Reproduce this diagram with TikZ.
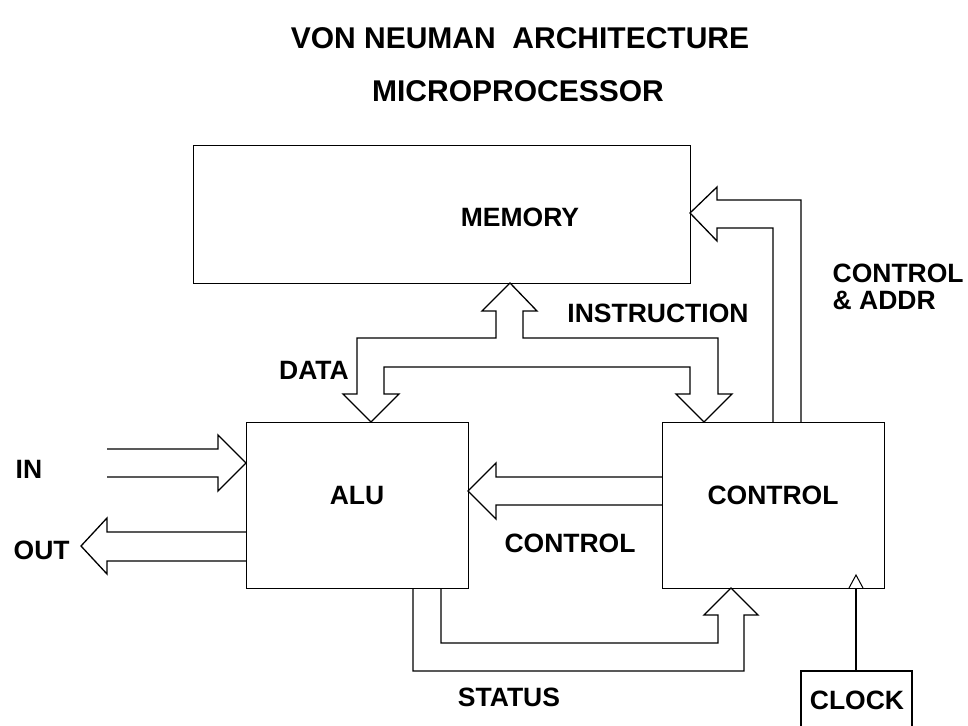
\documentclass[tikz,border=0pt]{standalone}
\usepackage{fontspec}
\setmainfont{Liberation Sans}
\begin{document}
\begin{tikzpicture}[x=1pt,y=-1pt,
  line width=1.3pt, line join=miter,
  box/.style={draw, rectangle, inner sep=0pt, anchor=north west},
  lbl/.style={font=\fontsize{26.5}{27}\selectfont\bfseries, inner sep=0pt, text depth=0pt},
  ttl/.style={font=\fontsize{30}{31}\selectfont\bfseries, inner sep=0pt, text depth=0pt},
  bus/.style={draw, line width=1.3pt}]
\useasboundingbox (0,0) rectangle (968,725);

% titles
\node[ttl] (t1) at (520,38) {VON NEUMAN\ \ ARCHITECTURE};
\node[ttl] (t2) at (518,91) {MICROPROCESSOR};

% blocks
\node[box, minimum width=497pt, minimum height=138pt] (mem) at (193,145) {};
\node[box, minimum width=222pt, minimum height=166pt] (alu) at (246,422) {};
\node[box, minimum width=222pt, minimum height=166pt] (ctrl) at (662,422) {};
\draw (801,726) -- (801,671) coordinate (clk) -- (912,671) -- (912,726);
\coordinate (clktop) at (856,671);

\node[lbl] at (520,217) {MEMORY};
\node[lbl] at (357,495) {ALU};
\node[lbl] at (773,495) {CONTROL};
\node[lbl] at (857,700) {CLOCK};

% data / instruction bus between memory, ALU and control
\draw[bus] (357,394) -- (357,338) -- (496,338) -- (496,311) -- (482,311)
  -- (510,283) -- (537,311) -- (523,311) -- (523,338) -- (718,338) -- (718,394)
  -- (732,394) -- (704,422) -- (676,394) -- (690,394) -- (690,367) -- (384,367)
  -- (384,394) -- (399,394) -- (371,422) -- (343,394) -- cycle;

% control & address bus to memory
\draw[bus] (773,422) -- (773,228) -- (717,228) -- (717,241) -- (690,213)
  -- (717,187) -- (717,200) -- (801,200) -- (801,422);

% status bus from ALU to control
\draw[bus] (413,588) -- (413,671) -- (744,671) -- (744,615) -- (758,615)
  -- (731,588) -- (704,615) -- (718,615) -- (718,643) -- (441,643) -- (441,588);

% control lines from control unit to ALU
\draw[bus] (662,477) -- (496,477) -- (496,463) -- (468,491) -- (496,519)
  -- (496,505) -- (662,505);

% input
\draw[bus] (107,449) -- (218,449) -- (218,435) -- (246,463) -- (218,491)
  -- (218,477) -- (107,477);
% output
\draw[bus] (246,532) -- (107,532) -- (107,518) -- (81,546) -- (107,574)
  -- (107,561) -- (246,561);

% clock input with edge marker
\draw (clktop) -- (856,588);
\draw[line width=1pt] (849,588) -- (856,575) -- (863,588);

% bus labels
\node[lbl] at (658,313) {INSTRUCTION};
\node[lbl, anchor=west] at (832,273) {CONTROL};
\node[lbl, anchor=west] at (832,300) {\&\ ADDR};
\node[lbl] at (314,370) {DATA};
\node[lbl, anchor=west] at (15,469) {IN};
\node[lbl, anchor=west] at (13,550) {OUT};
\node[lbl] at (570,543) {CONTROL};
\node[lbl] at (509,697) {STATUS};
\end{tikzpicture}
\end{document}
